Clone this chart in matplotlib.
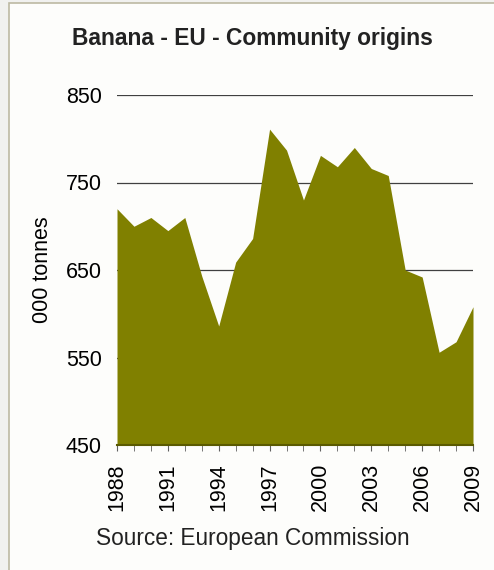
import matplotlib.pyplot as plt
from matplotlib.patches import Rectangle

plt.rcParams['font.family'] = ['Liberation Sans', 'DejaVu Sans']

years = list(range(1988, 2010))
tonnes = [720, 700, 710, 695, 710, 643, 586, 659, 686, 811, 787,
          730, 781, 768, 790, 766, 758, 650, 642, 556, 568, 608]
yticks = [450, 550, 650, 750, 850]
xlabels = [1988, 1991, 1994, 1997, 2000, 2003, 2006, 2009]

fig = plt.figure(figsize=(4.94, 5.70), dpi=100)
fig.patch.set_facecolor('#f1f1ef')
# panel with thin border, kept behind the axes
fig.patches.append(Rectangle((9 / 494, -0.1), 1.2, 1 - 3 / 570 + 0.1,
                             transform=fig.transFigure, facecolor='#fdfdfb',
                             edgecolor='#bdb9a3', linewidth=1.2, zorder=-10))

ax = fig.add_axes([117 / 494, 1 - 445 / 570, (473 - 117) / 494, (445 - 95) / 570])
ax.set_facecolor('none')
ax.fill_between(years, tonnes, 450, color='#808000', linewidth=0, zorder=2)

ax.set_xlim(1988, 2009)
ax.set_ylim(450, 850)
ax.set_yticks(yticks)
ax.set_yticklabels([str(v) for v in yticks], fontsize=15.5)
ax.tick_params(axis='y', length=0, pad=11)
for v in yticks[1:]:
    ax.axhline(v, color='#404040', linewidth=0.9, zorder=1)

ax.set_xticks(years, minor=True)
ax.set_xticks(xlabels)
ax.set_xticklabels([str(v) for v in xlabels], rotation=90, fontsize=15.5)
ax.tick_params(axis='x', which='both', length=4, color='#606060', pad=9, direction='out')

for s in ['top', 'right', 'left']:
    ax.spines[s].set_visible(False)
ax.spines['bottom'].set_color('#5a5a00')
ax.spines['bottom'].set_linewidth(1.5)
ax.spines['bottom'].set_zorder(3)

ax.set_ylabel('000 tonnes', fontsize=15.5, labelpad=9)

fig.text(252 / 494, 1 - 38 / 570, 'Banana - EU - Community origins',
         ha='center', va='center', fontsize=16.4, fontweight='bold', color='#222222')
fig.text(253 / 494, 1 - 538 / 570, 'Source: European Commission',
         ha='center', va='center', fontsize=16.3, color='#222222')

fig.savefig('out.png', dpi=100, facecolor=fig.get_facecolor())
